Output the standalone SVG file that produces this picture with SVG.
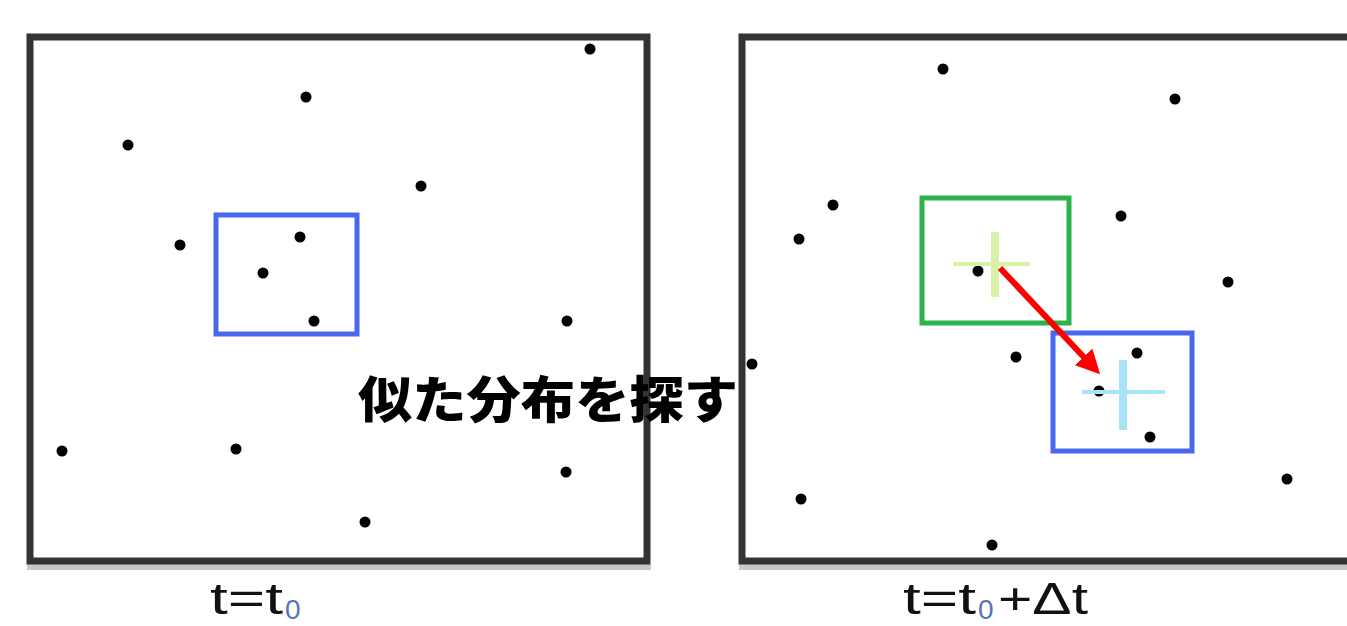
<svg xmlns="http://www.w3.org/2000/svg" width="1347" height="626" viewBox="0 0 1347 626">
  <defs>
    <style>
      .frame { fill: none; stroke: #333333; stroke-width: 7; }
      .shadow { stroke: #c8c8c8; stroke-width: 6; }
      .dot { fill: #000000; }
      .roi-blue { fill: none; stroke: #4a68ee; stroke-width: 5; }
      .roi-green { fill: none; stroke: #2db24a; stroke-width: 5; }
      .lbl { font-family: "Liberation Sans", Arial, sans-serif; font-size: 44px; fill: #111111; }
      .sub { font-size: 28px; fill: #5a74b8; }
      .jp { font-family: "Noto Sans CJK JP", "Noto Sans", sans-serif; font-weight: 900; font-size: 50px; fill: #000000; }
    </style>
    <marker id="arrowRed" markerWidth="4" markerHeight="4" refX="3" refY="2" orient="auto" markerUnits="strokeWidth">
      <path d="M0,0 L4,2 L0,4 Z" fill="#ff0000"/>
    </marker>
  </defs>

  <rect width="1347" height="626" fill="#ffffff"/>

  <g id="panel-t0">
    <line class="shadow" x1="27" y1="567" x2="651" y2="567"/>
    <rect class="frame" x="30" y="37" width="617" height="524"/>
    <g id="dots-t0">
      <circle class="dot" cx="590" cy="49" r="5.5"/>
      <circle class="dot" cx="306" cy="97" r="5.5"/>
      <circle class="dot" cx="128" cy="145" r="5.5"/>
      <circle class="dot" cx="421" cy="186" r="5.5"/>
      <circle class="dot" cx="180" cy="245" r="5.5"/>
      <circle class="dot" cx="300" cy="237" r="5.5"/>
      <circle class="dot" cx="263" cy="273" r="5.5"/>
      <circle class="dot" cx="314" cy="321" r="5.5"/>
      <circle class="dot" cx="567" cy="321" r="5.5"/>
      <circle class="dot" cx="62" cy="451" r="5.5"/>
      <circle class="dot" cx="236" cy="449" r="5.5"/>
      <circle class="dot" cx="566" cy="472" r="5.5"/>
      <circle class="dot" cx="365" cy="522" r="5.5"/>
    </g>
    <rect id="roi-t0" class="roi-blue" x="216" y="215" width="141" height="119"/>
  </g>

  <g id="panel-t1">
    <line class="shadow" x1="739" y1="567" x2="1347" y2="567"/>
    <path class="frame" d="M1350,37 L742,37 L742,561 L1350,561"/>
    <g id="dots-t1">
      <circle class="dot" cx="943" cy="69" r="5.5"/>
      <circle class="dot" cx="1175" cy="99" r="5.5"/>
      <circle class="dot" cx="833" cy="205" r="5.5"/>
      <circle class="dot" cx="799" cy="239" r="5.5"/>
      <circle class="dot" cx="1121" cy="216" r="5.5"/>
      <circle class="dot" cx="1228" cy="282" r="5.5"/>
      <circle class="dot" cx="752" cy="364" r="5.5"/>
      <circle class="dot" cx="1016" cy="357" r="5.5"/>
      <circle class="dot" cx="978" cy="271" r="5.5"/>
      <circle class="dot" cx="1137" cy="353" r="5.5"/>
      <circle class="dot" cx="1099" cy="391" r="5.5"/>
      <circle class="dot" cx="1150" cy="437" r="5.5"/>
      <circle class="dot" cx="801" cy="499" r="5.5"/>
      <circle class="dot" cx="1287" cy="479" r="5.5"/>
      <circle class="dot" cx="992" cy="545" r="5.5"/>
    </g>
    <g id="search-window">
      <rect class="roi-green" x="922" y="198" width="147" height="125"/>
      <line x1="995" y1="232" x2="995" y2="297" stroke="#d9f2a6" stroke-width="8"/>
      <line x1="953" y1="264" x2="1030" y2="264" stroke="#d9f2a6" stroke-width="4"/>
    </g>
    <g id="match-window">
      <rect class="roi-blue" x="1053" y="333" width="139" height="118"/>
      <line x1="1123" y1="360" x2="1123" y2="430" stroke="#a8e4f8" stroke-width="8"/>
      <line x1="1082" y1="392" x2="1165" y2="392" stroke="#a8e4f8" stroke-width="4"/>
    </g>
  </g>

  <g id="connectors">
    <line x1="1000" y1="268" x2="1096" y2="370" stroke="#ff0000" stroke-width="6" marker-end="url(#arrowRed)"/>
  </g>

  <g id="caption-center">
    <text class="jp" x="358" y="418" textLength="380" lengthAdjust="spacingAndGlyphs">似た分布を探す</text>
  </g>

  <g id="label-t0">
    <text class="lbl" x="210" y="614" textLength="73" lengthAdjust="spacingAndGlyphs">t=t</text>
    <text class="lbl sub" x="285" y="619">0</text>
  </g>

  <g id="label-t1">
    <text class="lbl" x="903" y="614" textLength="73" lengthAdjust="spacingAndGlyphs">t=t</text>
    <text class="lbl sub" x="978" y="619">0</text>
    <text class="lbl" x="998" y="614" textLength="90" lengthAdjust="spacingAndGlyphs">+Δt</text>
  </g>
</svg>
